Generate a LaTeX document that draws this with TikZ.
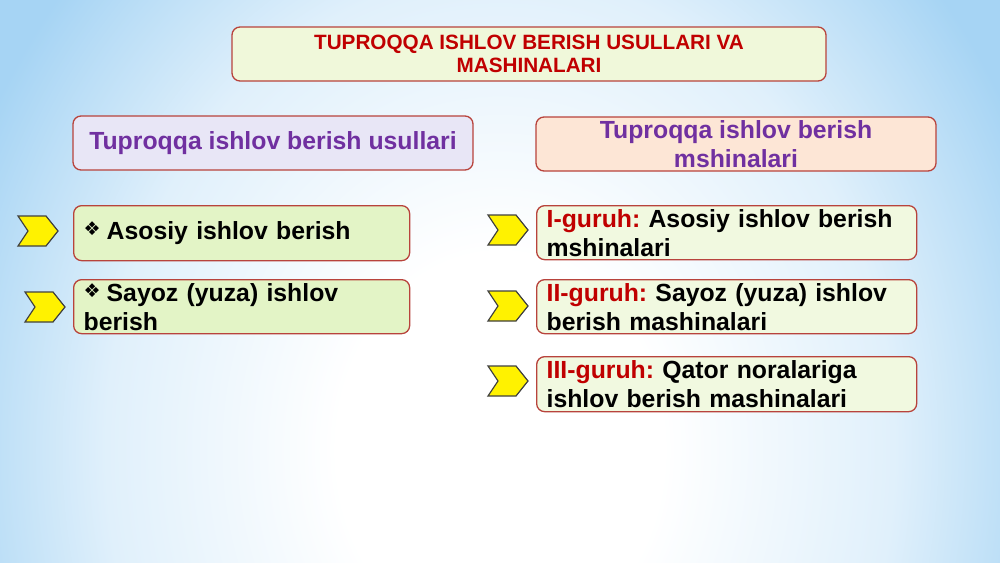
\documentclass[tikz,border=0pt]{standalone}
\usepackage{fontspec}
\setmainfont{Liberation Sans}
\newfontfamily\symfont{DejaVu Sans}
\frenchspacing
\definecolor{bgblue}{HTML}{A6D4F4}
\definecolor{boxline}{HTML}{B8433C}
\definecolor{darkred}{HTML}{C00000}
\definecolor{headpurple}{HTML}{7030A0}
\definecolor{titlefill}{HTML}{F0F8DA}
\definecolor{leftfill}{HTML}{E3F4C6}
\definecolor{rightfill}{HTML}{F1F9E0}
\definecolor{lavfill}{HTML}{E8E6F6}
\definecolor{peachfill}{HTML}{FDE6D6}
\pgfdeclareradialshading{bgshade}{\pgfpoint{0bp}{0bp}}{color(0bp)=(white); color(7bp)=(white); color(17bp)=(bgblue!35!white); color(22bp)=(bgblue!75!white); color(25bp)=(bgblue); color(50bp)=(bgblue)}
\newcommand{\dmdbullet}{{\symfont\fontsize{19}{19}\selectfont\raisebox{4pt}{❖}}\hspace{6pt}}
\newcommand{\grp}[1]{\textcolor{darkred}{#1}}

\begin{document}
\begin{tikzpicture}[x=1pt,y=-1pt,
	box/.style={draw=boxline,line width=1.3pt,rounded corners=8pt,inner xsep=10pt,inner ysep=0pt},
	bigtext/.style={font=\bfseries\fontsize{24.8}{29}\selectfont},
	headbox/.style={box,bigtext,text=headpurple,align=center,minimum width=400pt,minimum height=54pt},
	itembox/.style={box,bigtext,align=left,anchor=north west},
	chev/.style={fill=yellow,draw=black!75,line width=1.2pt,line join=miter}]
		\useasboundingbox (0,0) rectangle (1000,562);
		\begin{scope}
			\clip (0,0) rectangle (1000,562);
			\shade[shading=bgshade] (-80,-250) rectangle (1080,1150);
		\end{scope}
		
		\node[box,fill=titlefill,text=darkred,align=center,minimum width=594pt,minimum height=54pt,
			font=\bfseries\fontsize{20.7}{22.5}\selectfont] (title) at (529,54) {TUPROQQA ISHLOV BERISH USULLARI VA\\MASHINALARI};
		
		\node[headbox,fill=lavfill] (usul) at (273,143) {Tuproqqa ishlov berish usullari};
		\node[headbox,fill=peachfill] (mash) at (736,144) {Tuproqqa ishlov berish\\mshinalari};
		
		\node[itembox,fill=leftfill,minimum width=336pt,minimum height=55pt,text width=316pt] (asosiy) at (73,205) {\dmdbullet Asosiy ishlov berish};
		\node[itembox,fill=leftfill,minimum width=336pt,minimum height=54pt,text width=316pt] (sayoz) at (73,279) {\dmdbullet Sayoz (yuza) ishlov\\berish};
		
		\node[itembox,fill=rightfill,minimum width=380pt,minimum height=54pt,text width=360pt] (guruh1) at (536,205) {\grp{I-guruh:} Asosiy ishlov berish\\mshinalari};
		\node[itembox,fill=rightfill,minimum width=380pt,minimum height=54pt,text width=360pt] (guruh2) at (536,279) {\grp{II-guruh:} Sayoz (yuza) ishlov\\berish mashinalari};
		\node[itembox,fill=rightfill,minimum width=380pt,minimum height=55pt,text width=360pt] (guruh3) at (536,356) {\grp{III-guruh:} Qator noralariga\\ishlov berish mashinalari};
		
		% yellow chevrons
		\foreach \cx/\cy in {18/216, 25/292, 488/215, 488/291, 488/366}
			\draw[chev] (\cx,\cy) -- ++(28,0) -- ++(12,15) -- ++(-12,15) -- ++(-28,0) -- ++(10,-15) -- cycle;
	\end{tikzpicture}
\end{document}
